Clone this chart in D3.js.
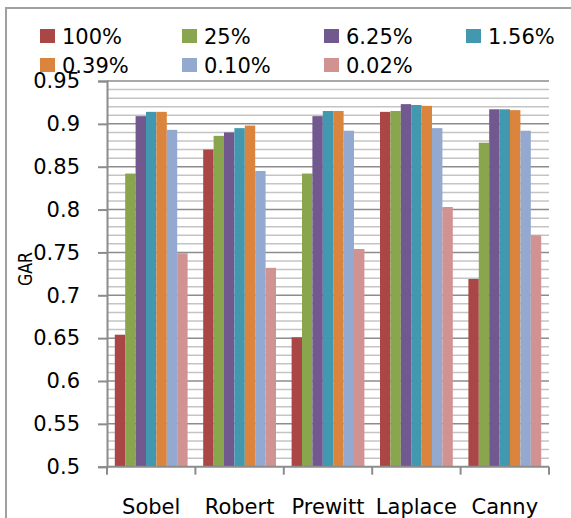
<!DOCTYPE html>
<html>
<head>
<meta charset="utf-8">
<script src="https://cdn.jsdelivr.net/npm/d3@7"></script>
<style>
  html, body { margin: 0; padding: 0; background: #fff; }
  svg { display: block; }
  text { font-family: "DejaVu Sans", sans-serif; fill: #000; }
</style>
</head>
<body>
<svg id="chart" width="571" height="518"></svg>
<script>
// ---- data ----
const categories = ["Sobel", "Robert", "Prewitt", "Laplace", "Canny"];
const seriesNames = ["100%", "25%", "6.25%", "1.56%", "0.39%", "0.10%", "0.02%"];
const s100  = [0.654, 0.870, 0.651, 0.914, 0.719];
const s25   = [0.842, 0.886, 0.842, 0.915, 0.878];
const s625  = [0.909, 0.890, 0.909, 0.923, 0.917];
const s156  = [0.914, 0.895, 0.915, 0.922, 0.917];
const s039  = [0.914, 0.898, 0.915, 0.921, 0.916];
const s010  = [0.893, 0.845, 0.892, 0.895, 0.892];
const s002  = [0.749, 0.732, 0.754, 0.803, 0.770];
const seriesValues = [s100, s25, s625, s156, s039, s010, s002];
const colors = ["#AA4645", "#89A54E", "#71588F", "#4198AF", "#DB843D", "#93A9CF", "#D19392"];
const yTicks = [0.5, 0.55, 0.6, 0.65, 0.7, 0.75, 0.8, 0.85, 0.9, 0.95];
const yLabel = "GAR";

// ---- layout ----
const svg = d3.select("#chart");
svg.append("rect").attr("width", 571).attr("height", 518).attr("fill", "#fff");
// outer frame
svg.append("path").attr("d", "M6,520 L6,8 L575,8")
  .attr("fill", "none").attr("stroke", "#a0a0a0").attr("stroke-width", 2);

const pLeft = 107, pRight = 549, pTop = 81, pBottom = 466.7;
const y = d3.scaleLinear().domain([0.5, 0.95]).range([pBottom, pTop]);
const x0 = d3.scaleBand().domain(categories).range([pLeft, pRight]).padding(0);
const x1 = d3.scaleBand().domain(seriesNames).range([0, x0.bandwidth()])
  .paddingInner(0).paddingOuter(0.75);

// minor gridlines
const minor = d3.range(51, 95).map(d => d / 100).filter(v => Math.round(v * 100) % 5 !== 0);
svg.append("g").selectAll("line").data(minor).join("line")
  .attr("x1", pLeft).attr("x2", pRight)
  .attr("y1", d => y(d)).attr("y2", d => y(d))
  .attr("stroke", "#c4c4c4").attr("stroke-width", 1.5);
// major gridlines
svg.append("g").selectAll("line").data(yTicks.filter(v => v > 0.5)).join("line")
  .attr("x1", pLeft).attr("x2", pRight)
  .attr("y1", d => y(d)).attr("y2", d => y(d))
  .attr("stroke", "#8c8c8c").attr("stroke-width", 1.5);

// bars
const groups = svg.append("g").selectAll("g").data(categories).join("g")
  .attr("transform", d => `translate(${x0(d)},0)`);
groups.selectAll("rect")
  .data((c, ci) => seriesNames.map((s, si) => ({ s, si, v: seriesValues[si][ci] })))
  .join("rect")
  .attr("x", d => x1(d.s))
  .attr("width", x1.bandwidth())
  .attr("y", d => y(d.v))
  .attr("height", d => y(0.5) - y(d.v))
  .attr("fill", d => colors[d.si]);

// y axis
const yAxis = d3.axisLeft(y).tickValues(yTicks).tickSize(9).tickPadding(18)
  .tickFormat(d => String(+d.toFixed(2)));
const gy = svg.append("g").attr("transform", `translate(${pLeft},0)`).call(yAxis);
gy.select(".domain").attr("stroke", "#8c8c8c").attr("stroke-width", 2);
gy.selectAll(".tick line").attr("stroke", "#8c8c8c").attr("stroke-width", 2);
gy.selectAll(".tick text").attr("font-size", 21).attr("font-family", "DejaVu Sans").attr("fill", "#000");

// x axis
const gx = svg.append("g").attr("transform", `translate(0,${pBottom})`);
gx.append("line").attr("x1", pLeft).attr("x2", pRight).attr("y1", 0).attr("y2", 0)
  .attr("stroke", "#8c8c8c").attr("stroke-width", 2);
const boundaries = categories.map(c => x0(c)).concat([pRight]);
gx.selectAll("line.tk").data(boundaries).join("line").attr("class", "tk")
  .attr("x1", d => d).attr("x2", d => d).attr("y1", 0).attr("y2", 8)
  .attr("stroke", "#8c8c8c").attr("stroke-width", 2);
gx.selectAll("text").data(categories).join("text")
  .attr("x", d => x0(d) + x0.bandwidth() / 2)
  .attr("y", 47.5)
  .attr("text-anchor", "middle")
  .attr("font-size", 21)
  .text(d => d);

// y label
svg.append("text")
  .attr("transform", "translate(32,269) rotate(-90)")
  .attr("text-anchor", "middle")
  .attr("font-size", 20)
  .attr("textLength", 34)
  .attr("lengthAdjust", "spacingAndGlyphs")
  .text(yLabel);

// legend
const legX = [40, 182, 324, 466];
const legY = [44, 73];
const leg = svg.append("g").selectAll("g").data(seriesNames).join("g")
  .attr("transform", (d, i) => `translate(${legX[i % 4]},${legY[Math.floor(i / 4)]})`);
leg.append("rect").attr("x", 0).attr("y", -15).attr("width", 15).attr("height", 14)
  .attr("fill", (d, i) => colors[i]);
leg.append("text").attr("x", 22).attr("y", 0).attr("font-size", 21).text(d => d);
</script>
</body>
</html>
